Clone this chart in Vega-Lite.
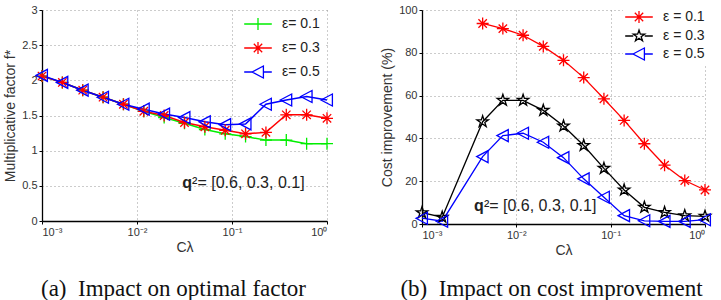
{
  "$schema": "https://vega.github.io/schema/vega-lite/v6.json",
  "padding": {"left": 3, "top": 4, "right": 0, "bottom": 0},
  "bounds": "flush",
  "spacing": 95,
  "background": "white",
  "datasets": {
    "a": [
      {"x": 0.001, "y": 2.06, "eps": "0.1"}, {"x": 0.001638, "y": 1.97, "eps": "0.1"}, {"x": 0.002683, "y": 1.86, "eps": "0.1"}, {"x": 0.004394, "y": 1.76, "eps": "0.1"}, {"x": 0.007197, "y": 1.66, "eps": "0.1"}, {"x": 0.01179, "y": 1.56, "eps": "0.1"}, {"x": 0.01931, "y": 1.47, "eps": "0.1"}, {"x": 0.03162, "y": 1.39, "eps": "0.1"}, {"x": 0.0518, "y": 1.30, "eps": "0.1"}, {"x": 0.08483, "y": 1.24, "eps": "0.1"}, {"x": 0.1389, "y": 1.20, "eps": "0.1"}, {"x": 0.2276, "y": 1.15, "eps": "0.1"}, {"x": 0.3728, "y": 1.15, "eps": "0.1"}, {"x": 0.6105, "y": 1.10, "eps": "0.1"}, {"x": 1, "y": 1.10, "eps": "0.1"},
      {"x": 0.001, "y": 2.06, "eps": "0.3"}, {"x": 0.001638, "y": 1.97, "eps": "0.3"}, {"x": 0.002683, "y": 1.86, "eps": "0.3"}, {"x": 0.004394, "y": 1.76, "eps": "0.3"}, {"x": 0.007197, "y": 1.66, "eps": "0.3"}, {"x": 0.01179, "y": 1.56, "eps": "0.3"}, {"x": 0.01931, "y": 1.50, "eps": "0.3"}, {"x": 0.03162, "y": 1.40, "eps": "0.3"}, {"x": 0.0518, "y": 1.34, "eps": "0.3"}, {"x": 0.08483, "y": 1.29, "eps": "0.3"}, {"x": 0.1389, "y": 1.24, "eps": "0.3"}, {"x": 0.2276, "y": 1.26, "eps": "0.3"}, {"x": 0.3728, "y": 1.51, "eps": "0.3"}, {"x": 0.6105, "y": 1.51, "eps": "0.3"}, {"x": 1, "y": 1.46, "eps": "0.3"},
      {"x": 0.001, "y": 2.07, "eps": "0.5"}, {"x": 0.001638, "y": 1.97, "eps": "0.5"}, {"x": 0.002683, "y": 1.86, "eps": "0.5"}, {"x": 0.004394, "y": 1.76, "eps": "0.5"}, {"x": 0.007197, "y": 1.66, "eps": "0.5"}, {"x": 0.01179, "y": 1.59, "eps": "0.5"}, {"x": 0.01931, "y": 1.52, "eps": "0.5"}, {"x": 0.03162, "y": 1.47, "eps": "0.5"}, {"x": 0.0518, "y": 1.41, "eps": "0.5"}, {"x": 0.08483, "y": 1.37, "eps": "0.5"}, {"x": 0.1389, "y": 1.38, "eps": "0.5"}, {"x": 0.2276, "y": 1.66, "eps": "0.5"}, {"x": 0.3728, "y": 1.72, "eps": "0.5"}, {"x": 0.6105, "y": 1.77, "eps": "0.5"}, {"x": 1, "y": 1.72, "eps": "0.5"}
    ],
    "b": [
      {"x": 0.004394, "y": 93.7, "eps": "0.1"}, {"x": 0.007197, "y": 91.3, "eps": "0.1"}, {"x": 0.01179, "y": 88.2, "eps": "0.1"}, {"x": 0.01931, "y": 83.0, "eps": "0.1"}, {"x": 0.03162, "y": 76.5, "eps": "0.1"}, {"x": 0.0518, "y": 68.4, "eps": "0.1"}, {"x": 0.08483, "y": 58.5, "eps": "0.1"}, {"x": 0.1389, "y": 48.4, "eps": "0.1"}, {"x": 0.2276, "y": 37.5, "eps": "0.1"}, {"x": 0.3728, "y": 27.5, "eps": "0.1"}, {"x": 0.6105, "y": 20.3, "eps": "0.1"}, {"x": 1, "y": 15.9, "eps": "0.1"},
      {"x": 0.001, "y": 5.3, "eps": "0.3"}, {"x": 0.001638, "y": 3.2, "eps": "0.3"}, {"x": 0.004394, "y": 47.8, "eps": "0.3"}, {"x": 0.007197, "y": 57.8, "eps": "0.3"}, {"x": 0.01179, "y": 57.8, "eps": "0.3"}, {"x": 0.01931, "y": 53.1, "eps": "0.3"}, {"x": 0.03162, "y": 45.8, "eps": "0.3"}, {"x": 0.0518, "y": 36.7, "eps": "0.3"}, {"x": 0.08483, "y": 26.0, "eps": "0.3"}, {"x": 0.1389, "y": 15.9, "eps": "0.3"}, {"x": 0.2276, "y": 7.8, "eps": "0.3"}, {"x": 0.3728, "y": 5.4, "eps": "0.3"}, {"x": 0.6105, "y": 3.9, "eps": "0.3"}, {"x": 1, "y": 3.6, "eps": "0.3"},
      {"x": 0.001, "y": 2.7, "eps": "0.5"}, {"x": 0.001638, "y": 1.3, "eps": "0.5"}, {"x": 0.004394, "y": 31.5, "eps": "0.5"}, {"x": 0.007197, "y": 41.3, "eps": "0.5"}, {"x": 0.01179, "y": 42.4, "eps": "0.5"}, {"x": 0.01931, "y": 38.2, "eps": "0.5"}, {"x": 0.03162, "y": 31.0, "eps": "0.5"}, {"x": 0.0518, "y": 21.1, "eps": "0.5"}, {"x": 0.08483, "y": 12.5, "eps": "0.5"}, {"x": 0.1389, "y": 3.9, "eps": "0.5"}, {"x": 0.2276, "y": 1.5, "eps": "0.5"}, {"x": 0.3728, "y": 1.2, "eps": "0.5"}, {"x": 0.6105, "y": 1.2, "eps": "0.5"}, {"x": 1, "y": 2.0, "eps": "0.5"}
    ]
  },
  "hconcat": [
    {
      "width": 285,
      "height": 211,
      "title": {"text": "(a)\u00a0 Impact on optimal factor", "orient": "bottom", "anchor": "middle", "dx": -11, "offset": 24, "font": "Liberation Serif", "fontSize": 23, "fontWeight": "normal", "color": "#111"},
      "data": {"name": "a"},
      "encoding": {
        "x": {"field": "x", "type": "quantitative", "scale": {"type": "log", "domain": [0.001, 1]}, "axis": {"values": [0.001, 0.01, 0.1, 1], "title": "C\u03bb", "labelExpr": "'10' + (datum.value < 0.005 ? '\u207b\u00b3' : datum.value < 0.05 ? '\u207b\u00b2' : datum.value < 0.5 ? '\u207b\u00b9' : '\u2070')"}},
        "y": {"field": "y", "type": "quantitative", "scale": {"domain": [0, 3], "nice": false}, "axis": {"values": [0, 0.5, 1, 1.5, 2, 2.5, 3], "format": "~g", "title": "Multiplicative factor  f*"}}
      },
      "layer": [
        {
          "mark": {"type": "line", "strokeWidth": 1.5},
          "encoding": {
            "color": {"field": "eps", "type": "nominal", "scale": {"domain": ["0.1", "0.3", "0.5"], "range": ["#00ee00", "#ff0000", "#0000ff"]}, "legend": null}
          }
        },
        {
          "mark": {"type": "point", "filled": false, "size": 144, "strokeWidth": 1.3, "opacity": 1},
          "encoding": {
            "color": {"field": "eps", "type": "nominal", "scale": {"domain": ["0.1", "0.3", "0.5"], "range": ["#00ee00", "#ff0000", "#0000ff"]}, "legend": null},
            "shape": {"field": "eps", "type": "nominal", "scale": {"domain": ["0.1", "0.3", "0.5"], "range": ["M-1,0H1M0,-1V1", "M-1,0H1M0,-1V1M-0.7,-0.7L0.7,0.7M-0.7,0.7L0.7,-0.7", "M-1,0L0.9,-1L0.9,1Z"]}, "legend": null}
          }
        },
        {
          "mark": {"type": "point", "filled": false, "size": 144, "strokeWidth": 1.3, "opacity": 0},
          "encoding": {
            "color": {"field": "eps", "type": "nominal", "scale": {"domain": ["0.1", "0.3", "0.5"], "range": ["#00ee00", "#ff0000", "#0000ff"]}, "legend": {"title": null, "orient": "top-right", "offset": 1, "padding": 6, "symbolOffset": 8, "labelOffset": 17, "labelExpr": "'\u03b5= ' + datum.label", "rowPadding": 6}},
            "shape": {"field": "eps", "type": "nominal", "scale": {"domain": ["0.1", "0.3", "0.5"], "range": ["M-2.3,0H2.3M0,-1V1", "M-2.3,0H2.3M0,-1V1M-0.7,-0.7L0.7,0.7M-0.7,0.7L0.7,-0.7", "M-2.3,0H-1M-1,0L0.9,-1L0.9,1ZM0.9,0H2.3"]}, "legend": {"title": null, "orient": "top-right", "offset": 1, "padding": 6, "symbolOffset": 8, "labelOffset": 17, "labelExpr": "'\u03b5= ' + datum.label", "rowPadding": 6}}
          }
        },
        {
          "data": {"values": [{"x": 0.038, "y": 0.54}]},
          "mark": {"type": "text", "text": "q", "fontWeight": "bold", "align": "right", "baseline": "middle", "font": "Liberation Sans", "fontSize": 16, "color": "#222"}
        },
        {
          "data": {"values": [{"x": 0.038, "y": 0.54}]},
          "mark": {"type": "text", "text": "\u00b2= [0.6, 0.3, 0.1]", "align": "left", "baseline": "middle", "font": "Liberation Sans", "fontSize": 16, "color": "#222"}
        }
      ],
      "resolve": {"scale": {"color": "independent", "shape": "independent"}, "legend": {"color": "independent", "shape": "independent"}}
    },
    {
      "width": 283,
      "height": 214,
      "title": {"text": "(b)\u00a0 Impact on cost improvement", "orient": "bottom", "anchor": "middle", "dx": -12, "offset": 21, "font": "Liberation Serif", "fontSize": 23, "fontWeight": "normal", "color": "#111"},
      "data": {"name": "b"},
      "encoding": {
        "x": {"field": "x", "type": "quantitative", "scale": {"type": "log", "domain": [0.001, 1]}, "axis": {"values": [0.001, 0.01, 0.1, 1], "title": "C\u03bb", "labelExpr": "'10' + (datum.value < 0.005 ? '\u207b\u00b3' : datum.value < 0.05 ? '\u207b\u00b2' : datum.value < 0.5 ? '\u207b\u00b9' : '\u2070')"}},
        "y": {"field": "y", "type": "quantitative", "scale": {"domain": [0, 100], "nice": false}, "axis": {"values": [0, 20, 40, 60, 80, 100], "title": "Cost improvement (%)"}}
      },
      "layer": [
        {
          "mark": {"type": "line", "strokeWidth": 1.3},
          "encoding": {
            "color": {"field": "eps", "type": "nominal", "scale": {"domain": ["0.1", "0.3", "0.5"], "range": ["#ff0000", "#000000", "#0000ff"]}, "legend": null}
          }
        },
        {
          "mark": {"type": "point", "filled": false, "size": 144, "strokeWidth": 1.3, "opacity": 1},
          "encoding": {
            "color": {"field": "eps", "type": "nominal", "scale": {"domain": ["0.1", "0.3", "0.5"], "range": ["#ff0000", "#000000", "#0000ff"]}, "legend": null},
            "shape": {"field": "eps", "type": "nominal", "scale": {"domain": ["0.1", "0.3", "0.5"], "range": ["M-1,0H1M0,-1V1M-0.7,-0.7L0.7,0.7M-0.7,0.7L0.7,-0.7", "M0,-1L0.2245,-0.309L0.951,-0.309L0.363,0.118L0.588,0.809L0,0.382L-0.588,0.809L-0.363,0.118L-0.951,-0.309L-0.2245,-0.309Z", "M-1,0L0.9,-1L0.9,1Z"]}, "legend": null}
          }
        },
        {
          "mark": {"type": "point", "filled": false, "size": 144, "strokeWidth": 1.3, "opacity": 0},
          "encoding": {
            "color": {"field": "eps", "type": "nominal", "scale": {"domain": ["0.1", "0.3", "0.5"], "range": ["#ff0000", "#000000", "#0000ff"]}, "legend": {"title": null, "orient": "top-right", "offset": -2, "padding": 2, "symbolOffset": 7, "labelOffset": 17, "labelExpr": "'\u03b5 = ' + datum.label", "rowPadding": 1}},
            "shape": {"field": "eps", "type": "nominal", "scale": {"domain": ["0.1", "0.3", "0.5"], "range": ["M-2.3,0H2.3M0,-1V1M-0.7,-0.7L0.7,0.7M-0.7,0.7L0.7,-0.7", "M-2.3,0H-0.95M0.95,0H2.3M0,-1L0.2245,-0.309L0.951,-0.309L0.363,0.118L0.588,0.809L0,0.382L-0.588,0.809L-0.363,0.118L-0.951,-0.309L-0.2245,-0.309Z", "M-2.3,0H-1M-1,0L0.9,-1L0.9,1ZM0.9,0H2.3"]}, "legend": {"title": null, "orient": "top-right", "offset": -2, "padding": 2, "symbolOffset": 7, "labelOffset": 17, "labelExpr": "'\u03b5 = ' + datum.label", "rowPadding": 1}}
          }
        },
        {
          "data": {"values": [{"x": 0.00453, "y": 8.6}]},
          "mark": {"type": "text", "text": "q", "fontWeight": "bold", "align": "right", "baseline": "middle", "font": "Liberation Sans", "fontSize": 16, "color": "#222"}
        },
        {
          "data": {"values": [{"x": 0.00453, "y": 8.6}]},
          "mark": {"type": "text", "text": "\u00b2= [0.6, 0.3, 0.1]", "align": "left", "baseline": "middle", "font": "Liberation Sans", "fontSize": 16, "color": "#222"}
        }
      ],
      "resolve": {"scale": {"color": "independent", "shape": "independent"}, "legend": {"color": "independent", "shape": "independent"}}
    }
  ],
  "resolve": {"scale": {"color": "independent", "shape": "independent", "x": "independent", "y": "independent"}, "legend": {"color": "independent", "shape": "independent"}},
  "config": {
    "view": {"stroke": null},
    "axis": {
      "domainColor": "#000", "domainWidth": 1.3, "tickColor": "#000", "tickSize": 3, "labelPadding": 2,
      "labelFont": "Liberation Sans", "labelFontSize": 11, "labelColor": "#333",
      "titleFont": "Liberation Sans", "titleFontSize": 14, "titleFontWeight": "normal", "titleColor": "#333",
      "grid": true, "gridDash": [1, 3], "gridColor": "#999", "gridWidth": 1
    },
    "axisY": {"titlePadding": 4},
    "axisX": {"titlePadding": 3},
    "legend": {
      "labelFont": "Liberation Sans", "labelFontSize": 14, "labelColor": "#222", "fillColor": "white",
      "symbolSize": 144, "symbolStrokeWidth": 1.3, "symbolOpacity": 1, "offset": 3
    }
  }
}
